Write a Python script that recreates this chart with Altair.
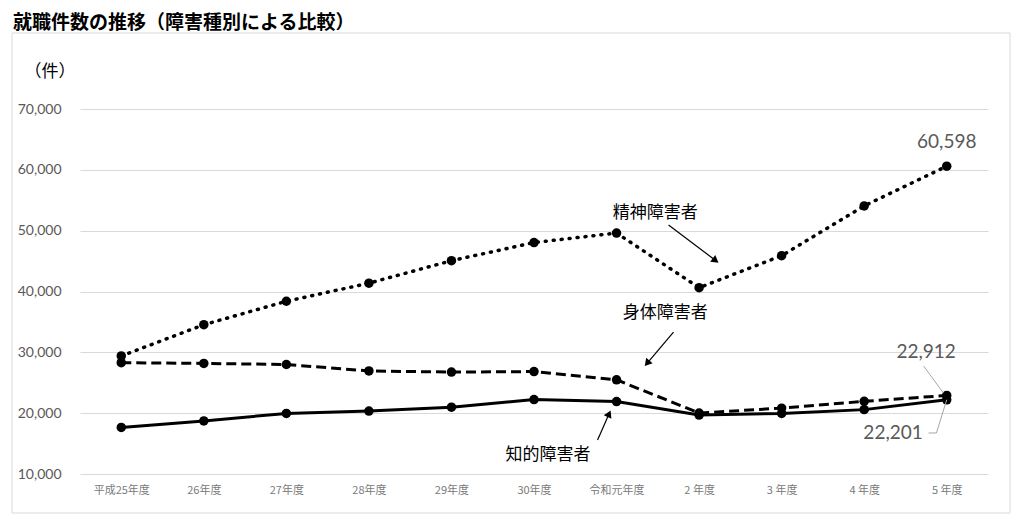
import json
import altair as alt
import pandas as pd

# ---- data ----
categories = ["平成25年度", "26年度", "27年度", "28年度", "29年度", "30年度",
              "令和元年度", "2 年度", "3 年度", "4 年度", "5 年度"]
mental = [29404, 34538, 38396, 41367, 45064, 48040, 49612, 40624, 45885, 54074, 60598]
physical = [28307, 28175, 28003, 26940, 26756, 26841, 25484, 20025, 20829, 21940, 22912]
intellectual = [17649, 18723, 19958, 20342, 20987, 22234, 21899, 19688, 19957, 20582, 22201]
series_names = ["精神障害者", "身体障害者", "知的障害者"]
y_ticks = [10000, 20000, 30000, 40000, 50000, 60000, 70000]

# annotation labels (data coordinates: category index, count)
ann_labels = ["精神障害者", "身体障害者", "知的障害者"]
ann_x = [6.47, 6.59, 5.17]
ann_y = [52900, 36470, 13120]
# arrows: start -> end
arr_x1 = [6.63, 6.69, 5.77]
arr_y1 = [50930, 33340, 15590]
arr_x2 = [7.20, 6.37, 5.91]
arr_y2 = [45100, 28200, 19900]
arr_angle = [127, 220, 25]
# value labels
val_labels = ["60,598", "22,912", "22,201"]
val_x = [10.0, 9.75, 9.35]
val_y = [64580, 30060, 16740]
# leader lines
lead_x1 = [9.72, 9.78, 9.875]
lead_y1 = [27750, 16740, 16740]
lead_x2 = [9.96, 9.875, 10.0]
lead_y2 = [23300, 16740, 22200]

FONT_JP = "Noto Sans CJK JP"
FONT_NUM = "Lato"

rows = []
for name, vals in zip(series_names, [mental, physical, intellectual]):
    for i, v in enumerate(vals):
        rows.append({"idx": i, "value": v, "series": name})
df = pd.DataFrame(rows)

xscale = alt.Scale(domain=[-0.5, len(categories) - 0.5], nice=False, zero=False)
yscale = alt.Scale(domain=[10000, 70000], nice=False, zero=False)

label_expr = json.dumps(categories, ensure_ascii=False) + "[datum.value]"
x_axis = alt.Axis(values=list(range(len(categories))), labelExpr=label_expr, grid=False,
                  domain=False, ticks=False, labelFontSize=11, labelColor="#7a7a7a",
                  labelPadding=10, title=None, labelFont=FONT_JP)
y_axis = alt.Axis(values=y_ticks, format=",.0f", gridColor="#d9d9d9", gridWidth=1,
                  domain=False, ticks=False, labelFontSize=14, labelColor="#595959",
                  labelPadding=19, title=None, labelFont=FONT_NUM)

X = alt.X("idx:Q", scale=xscale, axis=x_axis)
Y = alt.Y("value:Q", scale=yscale, axis=y_axis)

styles = {
    "精神障害者": dict(strokeDash=[1, 7], strokeCap="round", strokeWidth=3.5),
    "身体障害者": dict(strokeDash=[10, 5], strokeWidth=3),
    "知的障害者": dict(strokeWidth=3),
}
line_layers = [
    alt.Chart(df[df.series == s]).mark_line(color="black", **styles[s]).encode(x=X, y=Y)
    for s in series_names
]
points = alt.Chart(df).mark_circle(size=90, color="black", opacity=1).encode(x=X, y=Y)

ann_df = pd.DataFrame({"label": ann_labels, "idx": ann_x, "value": ann_y})
ann_text = alt.Chart(ann_df).mark_text(fontSize=17, font=FONT_JP, color="black",
                                       align="center", baseline="middle").encode(
    x=X, y=Y, text="label:N")

arr_df = pd.DataFrame({"idx": arr_x1, "value": arr_y1, "idx2": arr_x2, "value2": arr_y2,
                       "angle": arr_angle})
arr_lines = alt.Chart(arr_df).mark_rule(color="black", strokeWidth=1.2).encode(
    x=X, y=Y, x2="idx2:Q", y2="value2:Q")
arr_heads = alt.Chart(arr_df).mark_point(shape="triangle-up", filled=True, color="black",
                                         opacity=1, size=70).encode(
    x=alt.X("idx2:Q", scale=xscale, axis=x_axis),
    y=alt.Y("value2:Q", scale=yscale, axis=y_axis),
    angle=alt.Angle("angle:Q", scale=None))

val_df = pd.DataFrame({"label": val_labels, "idx": val_x, "value": val_y})
val_text = alt.Chart(val_df).mark_text(fontSize=19, font=FONT_NUM, color="#595959",
                                       align="center", baseline="middle").encode(
    x=X, y=Y, text="label:N")

lead_df = pd.DataFrame({"idx": lead_x1, "value": lead_y1, "idx2": lead_x2, "value2": lead_y2})
leaders = alt.Chart(lead_df).mark_rule(color="#a6a6a6", strokeWidth=1).encode(
    x=X, y=Y, x2="idx2:Q", y2="value2:Q")

one = pd.DataFrame({"a": [0]})
frame = alt.Chart(one).mark_rect(fillOpacity=0, stroke="#d9d9d9", strokeWidth=1).encode(
    x=alt.value(-68), x2=alt.value(930), y=alt.value(-76), y2=alt.value(404))
title = alt.Chart(one).mark_text(align="left", baseline="middle", fontSize=19,
                                 fontWeight="bold", font=FONT_JP, color="black").encode(
    x=alt.value(-67), y=alt.value(-86), text=alt.value("就職件数の推移（障害種別による比較）"))
unit = alt.Chart(one).mark_text(align="center", baseline="middle", fontSize=17,
                                font=FONT_JP, color="black").encode(
    x=alt.value(-30), y=alt.value(-37), text=alt.value("（件）"))

chart = alt.layer(frame, *line_layers, points, arr_lines, arr_heads, ann_text,
                  leaders, val_text, title, unit).properties(
    width=908, height=365,
    autosize=alt.AutoSizeParams(type="none"),
    padding={"left": 72, "top": 101, "right": 28, "bottom": 40},
).configure_view(stroke=None)

chart.save("out.html", embed_options={"renderer": "svg", "actions": False})
